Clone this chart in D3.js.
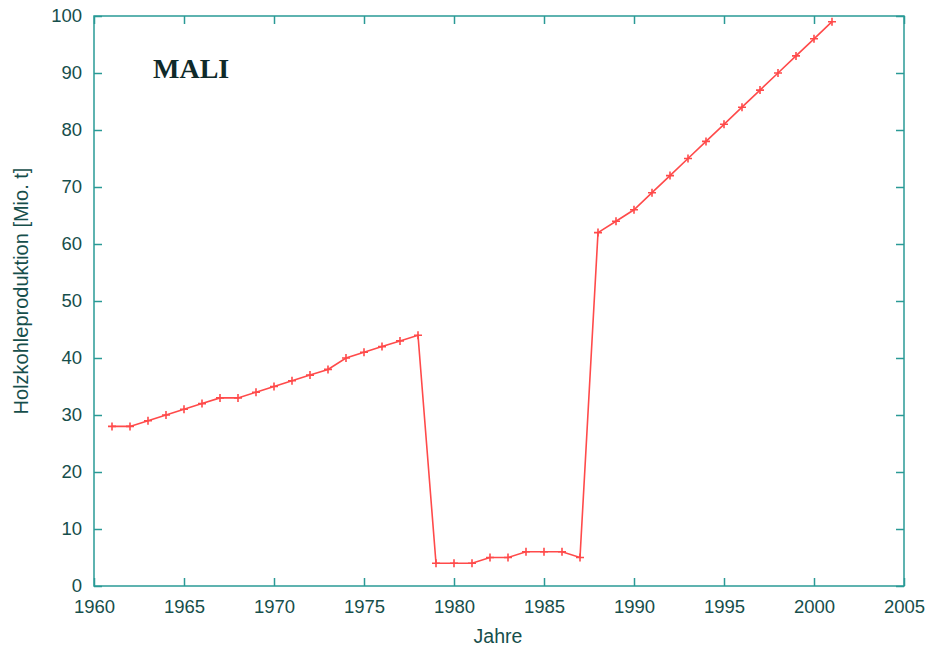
<!DOCTYPE html>
<html>
<head>
<meta charset="utf-8">
<script src="https://cdn.jsdelivr.net/npm/d3@7"></script>
<style>
  html, body { margin: 0; padding: 0; background: #fff; }
  svg { display: block; }
</style>
</head>
<body>
<svg id="chart" width="930" height="647"></svg>
<script>
// Holzkohleproduktion in Mali, 1961–2001
const years = [1961,1962,1963,1964,1965,1966,1967,1968,1969,1970,
               1971,1972,1973,1974,1975,1976,1977,1978,1979,1980,
               1981,1982,1983,1984,1985,1986,1987,1988,1989,1990,
               1991,1992,1993,1994,1995,1996,1997,1998,1999,2000,2001];
const production = [28,28,29,30,31,32,33,33,34,35,
                    36,37,38,40,41,42,43,44,4,4,
                    4,5,5,6,6,6,5,62,64,66,
                    69,72,75,78,81,84,87,90,93,96,99];
const xTicks = [1960,1965,1970,1975,1980,1985,1990,1995,2000,2005];
const yTicks = [0,10,20,30,40,50,60,70,80,90,100];

const frameColor = "#2a9a96";
const textColor = "#164e4b";
const lineColor = "#ff4a4a";

const svg = d3.select("#chart");
const m = { left: 94, right: 904, top: 16, bottom: 586 };

const x = d3.scaleLinear().domain([1960, 2005]).range([m.left, m.right]);
const y = d3.scaleLinear().domain([0, 100]).range([m.bottom, m.top]);

const tickFont = "'Liberation Sans', Arial, sans-serif";

// Axes with inward ticks, mirrored on top and right
function styleAxis(g) {
  g.select(".domain").remove();
  g.selectAll(".tick line").attr("stroke", frameColor).attr("stroke-width", 1.5);
  g.selectAll(".tick text").attr("fill", textColor)
    .style("font-family", tickFont).style("font-size", "18.5px");
}

svg.append("g")
  .attr("transform", `translate(0,${m.bottom})`)
  .call(d3.axisBottom(x).tickValues(xTicks).tickFormat(d3.format("d"))
        .tickSizeInner(-8).tickSizeOuter(0).tickPadding(14))
  .call(styleAxis);

svg.append("g")
  .attr("transform", `translate(0,${m.top})`)
  .call(d3.axisTop(x).tickValues(xTicks).tickFormat("")
        .tickSizeInner(-8).tickSizeOuter(0))
  .call(styleAxis);

svg.append("g")
  .attr("transform", `translate(${m.left},0)`)
  .call(d3.axisLeft(y).tickValues(yTicks).tickFormat(d3.format("d"))
        .tickSizeInner(-8).tickSizeOuter(0).tickPadding(12))
  .call(styleAxis);

svg.append("g")
  .attr("transform", `translate(${m.right},0)`)
  .call(d3.axisRight(y).tickValues(yTicks).tickFormat("")
        .tickSizeInner(-8).tickSizeOuter(0))
  .call(styleAxis);

// Plot frame
svg.append("rect")
  .attr("x", m.left).attr("y", m.top)
  .attr("width", m.right - m.left).attr("height", m.bottom - m.top)
  .attr("fill", "none").attr("stroke", frameColor).attr("stroke-width", 1.5);

// Series line
const data = years.map((yr, i) => ({ year: yr, value: production[i] }));
svg.append("path")
  .datum(data)
  .attr("fill", "none")
  .attr("stroke", lineColor)
  .attr("stroke-width", 1.6)
  .attr("d", d3.line().x(d => x(d.year)).y(d => y(d.value)));

// "+" markers at each data point
const s = 4;
svg.append("g").selectAll("path.pt")
  .data(data).join("path")
  .attr("class", "pt")
  .attr("d", d => {
    const cx = x(d.year), cy = y(d.value);
    return `M${cx - s},${cy}H${cx + s}M${cx},${cy - s}V${cy + s}`;
  })
  .attr("stroke", lineColor).attr("stroke-width", 1.6);

// Country label
svg.append("text")
  .attr("x", 153).attr("y", 78)
  .attr("fill", "#0f2a2a")
  .style("font-family", "'Liberation Serif', 'Times New Roman', serif")
  .style("font-weight", "bold")
  .style("font-size", "28px")
  .text("MALI");

// Axis titles
svg.append("text")
  .attr("x", 498).attr("y", 643)
  .attr("text-anchor", "middle")
  .attr("fill", textColor)
  .style("font-family", tickFont).style("font-size", "19.5px")
  .text("Jahre");

svg.append("text")
  .attr("transform", `translate(28,291) rotate(-90)`)
  .attr("text-anchor", "middle")
  .attr("fill", textColor)
  .style("font-family", tickFont).style("font-size", "20px")
  .text("Holzkohleproduktion [Mio. t]");
</script>
</body>
</html>
